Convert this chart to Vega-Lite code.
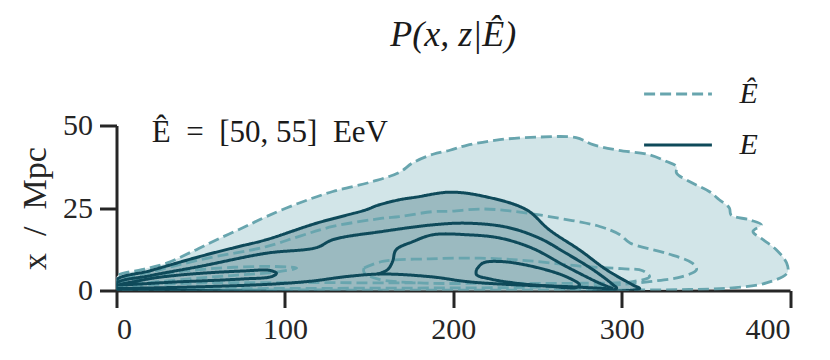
{
  "$schema": "https://vega.github.io/schema/vega-lite/v6.json",
  "width": 673.5,
  "height": 165,
  "autosize": {"type": "none"},
  "padding": {"left": 116.5, "top": 125.5, "right": 40, "bottom": 69},
  "background": "white",
  "config": {
    "view": {"stroke": null},
    "axis": {
      "grid": false,
      "domainColor": "#262626",
      "domainWidth": 3,
      "tickColor": "#262626",
      "tickWidth": 3,
      "tickSize": 17,
      "labelFont": "Liberation Serif",
      "labelFontSize": 30,
      "labelColor": "#262626",
      "labelPadding": 7,
      "titleFont": "Liberation Serif",
      "titleFontSize": 34,
      "titleFontWeight": "normal",
      "titleColor": "#262626"
    }
  },
  "title": {
    "text": "P(x, z|Ê)",
    "font": "Liberation Serif",
    "fontStyle": "italic",
    "fontSize": 36,
    "fontWeight": "normal",
    "color": "#1a1a1a",
    "anchor": "middle",
    "frame": "group",
    "baseline": "alphabetic",
    "offset": -23
  },
  "datasets": {
    "contours": [
      {"c":"D1","k":"Ê","i":0,"x":0,"y":0.3},{"c":"D1","k":"Ê","i":1,"x":0,"y":4.2},{"c":"D1","k":"Ê","i":2,"x":15,"y":6.3},{"c":"D1","k":"Ê","i":3,"x":29.8,"y":8.3},{"c":"D1","k":"Ê","i":4,"x":45,"y":11.8},{"c":"D1","k":"Ê","i":5,"x":59.5,"y":15.4},{"c":"D1","k":"Ê","i":6,"x":75,"y":19},{"c":"D1","k":"Ê","i":7,"x":89,"y":22.4},{"c":"D1","k":"Ê","i":8,"x":109,"y":26.6},{"c":"D1","k":"Ê","i":9,"x":128.5,"y":30},{"c":"D1","k":"Ê","i":10,"x":152,"y":33},{"c":"D1","k":"Ê","i":11,"x":168,"y":35.8},{"c":"D1","k":"Ê","i":12,"x":176,"y":38.7},{"c":"D1","k":"Ê","i":13,"x":188,"y":41.3},{"c":"D1","k":"Ê","i":14,"x":198,"y":42.5},{"c":"D1","k":"Ê","i":15,"x":208,"y":44},{"c":"D1","k":"Ê","i":16,"x":227.6,"y":45.7},{"c":"D1","k":"Ê","i":17,"x":251,"y":46.5},{"c":"D1","k":"Ê","i":18,"x":273,"y":46.3},{"c":"D1","k":"Ê","i":19,"x":283,"y":44.2},{"c":"D1","k":"Ê","i":20,"x":297,"y":42.6},{"c":"D1","k":"Ê","i":21,"x":316.6,"y":41.1},{"c":"D1","k":"Ê","i":22,"x":326.7,"y":39.1},{"c":"D1","k":"Ê","i":23,"x":332.6,"y":37.6},{"c":"D1","k":"Ê","i":24,"x":332.6,"y":35.6},{"c":"D1","k":"Ê","i":25,"x":342,"y":32.6},{"c":"D1","k":"Ê","i":26,"x":352,"y":30},{"c":"D1","k":"Ê","i":27,"x":358,"y":27.5},{"c":"D1","k":"Ê","i":28,"x":364,"y":25},{"c":"D1","k":"Ê","i":29,"x":365,"y":22.9},{"c":"D1","k":"Ê","i":30,"x":376,"y":21.4},{"c":"D1","k":"Ê","i":31,"x":383,"y":19.9},{"c":"D1","k":"Ê","i":32,"x":378,"y":17.9},{"c":"D1","k":"Ê","i":33,"x":384,"y":15.4},{"c":"D1","k":"Ê","i":34,"x":392,"y":12.3},{"c":"D1","k":"Ê","i":35,"x":398,"y":8.3},{"c":"D1","k":"Ê","i":36,"x":398.5,"y":5.4},{"c":"D1","k":"Ê","i":37,"x":386,"y":2.3},{"c":"D1","k":"Ê","i":38,"x":366,"y":0.8},{"c":"D1","k":"Ê","i":39,"x":340,"y":0.3},{"c":"D1","k":"Ê","i":40,"x":0,"y":0.3},

      {"c":"E1","k":"E","i":0,"x":0,"y":0.3},{"c":"E1","k":"E","i":1,"x":0,"y":3.2},{"c":"E1","k":"E","i":2,"x":20,"y":6},{"c":"E1","k":"E","i":3,"x":49.5,"y":10.3},{"c":"E1","k":"E","i":4,"x":70,"y":13},{"c":"E1","k":"E","i":5,"x":89,"y":15.4},{"c":"E1","k":"E","i":6,"x":118.8,"y":20.4},{"c":"E1","k":"E","i":7,"x":148.5,"y":24.5},{"c":"E1","k":"E","i":8,"x":154.4,"y":25.7},{"c":"E1","k":"E","i":9,"x":168,"y":27.5},{"c":"E1","k":"E","i":10,"x":178,"y":28.3},{"c":"E1","k":"E","i":11,"x":198,"y":29.8},{"c":"E1","k":"E","i":12,"x":217.6,"y":28.6},{"c":"E1","k":"E","i":13,"x":243.4,"y":24.5},{"c":"E1","k":"E","i":14,"x":257,"y":18.4},{"c":"E1","k":"E","i":15,"x":275,"y":12.3},{"c":"E1","k":"E","i":16,"x":291,"y":6.3},{"c":"E1","k":"E","i":17,"x":306.6,"y":1.7},{"c":"E1","k":"E","i":18,"x":310.7,"y":0.6},{"c":"E1","k":"E","i":19,"x":0,"y":0.3},

      {"c":"E2","k":"E","i":0,"x":0,"y":0.3},{"c":"E2","k":"E","i":1,"x":0,"y":2.2},{"c":"E2","k":"E","i":2,"x":20,"y":4.5},{"c":"E2","k":"E","i":3,"x":49.5,"y":7.3},{"c":"E2","k":"E","i":4,"x":89,"y":11.3},{"c":"E2","k":"E","i":5,"x":118.8,"y":13},{"c":"E2","k":"E","i":6,"x":128.5,"y":15.4},{"c":"E2","k":"E","i":7,"x":158,"y":17.9},{"c":"E2","k":"E","i":8,"x":188,"y":19.9},{"c":"E2","k":"E","i":9,"x":208,"y":20.4},{"c":"E2","k":"E","i":10,"x":231.6,"y":19.2},{"c":"E2","k":"E","i":11,"x":251,"y":15.9},{"c":"E2","k":"E","i":12,"x":267,"y":11.3},{"c":"E2","k":"E","i":13,"x":283,"y":6.3},{"c":"E2","k":"E","i":14,"x":295,"y":1.7},{"c":"E2","k":"E","i":15,"x":297,"y":0.6},{"c":"E2","k":"E","i":16,"x":0,"y":0.3},

      {"c":"EB","k":"E","i":0,"x":0,"y":0.6},{"c":"EB","k":"E","i":1,"x":40,"y":1.0},{"c":"EB","k":"E","i":2,"x":91,"y":1.9},{"c":"EB","k":"E","i":3,"x":115,"y":2.8},{"c":"EB","k":"E","i":4,"x":138,"y":4.3},{"c":"EB","k":"E","i":5,"x":158,"y":5.0},{"c":"EB","k":"E","i":6,"x":188,"y":4.1},{"c":"EB","k":"E","i":7,"x":208,"y":2.7},{"c":"EB","k":"E","i":8,"x":237.5,"y":1.7},{"c":"EB","k":"E","i":9,"x":267,"y":1.2},{"c":"EB","k":"E","i":10,"x":293,"y":0.5},

      {"c":"E3","k":"E","i":0,"x":155,"y":5.0},{"c":"E3","k":"E","i":1,"x":161,"y":6.3},{"c":"E3","k":"E","i":2,"x":164,"y":8.8},{"c":"E3","k":"E","i":3,"x":166,"y":12.3},{"c":"E3","k":"E","i":4,"x":176,"y":14.8},{"c":"E3","k":"E","i":5,"x":188,"y":16.9},{"c":"E3","k":"E","i":6,"x":208,"y":16.9},{"c":"E3","k":"E","i":7,"x":227.6,"y":15.9},{"c":"E3","k":"E","i":8,"x":247,"y":12.8},{"c":"E3","k":"E","i":9,"x":267,"y":7.3},{"c":"E3","k":"E","i":10,"x":287,"y":2.2},{"c":"E3","k":"E","i":11,"x":295,"y":0.6},

      {"c":"E4","k":"E","i":0,"x":213.8,"y":6.3},{"c":"E4","k":"E","i":1,"x":217.5,"y":8.3},{"c":"E4","k":"E","i":2,"x":227.6,"y":8.8},{"c":"E4","k":"E","i":3,"x":247,"y":7.3},{"c":"E4","k":"E","i":4,"x":267,"y":4.2},{"c":"E4","k":"E","i":5,"x":275,"y":1.7},{"c":"E4","k":"E","i":6,"x":273,"y":0.9},{"c":"E4","k":"E","i":7,"x":255,"y":1.4},{"c":"E4","k":"E","i":8,"x":237.5,"y":2.2},{"c":"E4","k":"E","i":9,"x":222,"y":3.5},{"c":"E4","k":"E","i":10,"x":213.8,"y":4.8},{"c":"E4","k":"E","i":11,"x":213.8,"y":6.3},

      {"c":"E5","k":"E","i":0,"x":0,"y":1.6},{"c":"E5","k":"E","i":1,"x":20,"y":3.6},{"c":"E5","k":"E","i":2,"x":35.7,"y":4.6},{"c":"E5","k":"E","i":3,"x":55.5,"y":5.4},{"c":"E5","k":"E","i":4,"x":75,"y":5.9},{"c":"E5","k":"E","i":5,"x":91,"y":6.1},{"c":"E5","k":"E","i":6,"x":95,"y":5.2},{"c":"E5","k":"E","i":7,"x":92,"y":4.2},{"c":"E5","k":"E","i":8,"x":75,"y":3.5},{"c":"E5","k":"E","i":9,"x":50,"y":2.9},{"c":"E5","k":"E","i":10,"x":35.7,"y":2.6},{"c":"E5","k":"E","i":11,"x":15,"y":2.0},{"c":"E5","k":"E","i":12,"x":0,"y":1.6},

      {"c":"D2","k":"Ê","i":0,"x":0,"y":0.5},{"c":"D2","k":"Ê","i":1,"x":0,"y":2.7},{"c":"D2","k":"Ê","i":2,"x":20,"y":5.5},{"c":"D2","k":"Ê","i":3,"x":49.5,"y":9.3},{"c":"D2","k":"Ê","i":4,"x":89,"y":13.3},{"c":"D2","k":"Ê","i":5,"x":109,"y":16.5},{"c":"D2","k":"Ê","i":6,"x":128.5,"y":19.4},{"c":"D2","k":"Ê","i":7,"x":158,"y":21.9},{"c":"D2","k":"Ê","i":8,"x":168,"y":22.4},{"c":"D2","k":"Ê","i":9,"x":188,"y":23.9},{"c":"D2","k":"Ê","i":10,"x":198,"y":24},{"c":"D2","k":"Ê","i":11,"x":217.6,"y":24.7},{"c":"D2","k":"Ê","i":12,"x":237.5,"y":23.9},{"c":"D2","k":"Ê","i":13,"x":257,"y":22.4},{"c":"D2","k":"Ê","i":14,"x":287,"y":19.4},{"c":"D2","k":"Ê","i":15,"x":299,"y":16.9},{"c":"D2","k":"Ê","i":16,"x":305,"y":14.4},{"c":"D2","k":"Ê","i":17,"x":326.5,"y":11.3},{"c":"D2","k":"Ê","i":18,"x":342,"y":8.3},{"c":"D2","k":"Ê","i":19,"x":344.5,"y":6.3},{"c":"D2","k":"Ê","i":20,"x":336,"y":4.2},{"c":"D2","k":"Ê","i":21,"x":316.6,"y":2.7},{"c":"D2","k":"Ê","i":22,"x":297,"y":1.7},{"c":"D2","k":"Ê","i":23,"x":250,"y":1.0},{"c":"D2","k":"Ê","i":24,"x":150,"y":0.7},{"c":"D2","k":"Ê","i":25,"x":0,"y":0.5},

      {"c":"D3","k":"Ê","i":0,"x":147,"y":6.8},{"c":"D3","k":"Ê","i":1,"x":158,"y":8.8},{"c":"D3","k":"Ê","i":2,"x":186,"y":9.6},{"c":"D3","k":"Ê","i":3,"x":215.8,"y":9.8},{"c":"D3","k":"Ê","i":4,"x":245,"y":9.0},{"c":"D3","k":"Ê","i":5,"x":277,"y":7.3},{"c":"D3","k":"Ê","i":6,"x":300,"y":6.6},{"c":"D3","k":"Ê","i":7,"x":312.5,"y":6.0},{"c":"D3","k":"Ê","i":8,"x":316.6,"y":4.2},{"c":"D3","k":"Ê","i":9,"x":306.6,"y":2.7},{"c":"D3","k":"Ê","i":10,"x":277,"y":2.2},{"c":"D3","k":"Ê","i":11,"x":230,"y":2.2},{"c":"D3","k":"Ê","i":12,"x":180,"y":2.3},{"c":"D3","k":"Ê","i":13,"x":155,"y":3.5},{"c":"D3","k":"Ê","i":14,"x":147,"y":5.5},{"c":"D3","k":"Ê","i":15,"x":147,"y":6.8},

      {"c":"D4","k":"Ê","i":0,"x":0,"y":2.0},{"c":"D4","k":"Ê","i":1,"x":25,"y":4.8},{"c":"D4","k":"Ê","i":2,"x":55.5,"y":6.6},{"c":"D4","k":"Ê","i":3,"x":91,"y":7.3},{"c":"D4","k":"Ê","i":4,"x":107,"y":6.8},{"c":"D4","k":"Ê","i":5,"x":95,"y":5.6},{"c":"D4","k":"Ê","i":6,"x":70,"y":4.6},{"c":"D4","k":"Ê","i":7,"x":40,"y":3.4},{"c":"D4","k":"Ê","i":8,"x":0,"y":1.5},

      {"c":"D5","k":"Ê","i":0,"x":0,"y":1.2},{"c":"D5","k":"Ê","i":1,"x":45,"y":2.2},{"c":"D5","k":"Ê","i":2,"x":100,"y":2.4},{"c":"D5","k":"Ê","i":3,"x":162,"y":2.3},{"c":"D5","k":"Ê","i":4,"x":180,"y":2.3}
    ],
    "notes": [
      {"x": 21, "y": 45, "t": "Ê\u2002=\u2002[50,\u00a055]\u2002EeV"}
    ]
  },
  "layer": [
    {
      "data": {"name": "contours"},
      "transform": [{"filter": "datum.c == 'D1'"}],
      "mark": {"type": "line", "fill": "#d2e5e8", "strokeWidth": 0, "clip": true, "interpolate": "catmull-rom"},
      "encoding": {
        "x": {"field": "x", "type": "quantitative", "scale": {"domain": [0, 400], "nice": false, "zero": false},
              "axis": {"values": [0, 100, 200, 300, 400], "title": null}},
        "y": {"field": "y", "type": "quantitative", "scale": {"domain": [0, 50], "nice": false, "zero": false},
              "axis": {"values": [0, 25, 50], "title": "x\u2002/\u2002Mpc", "titlePadding": 10}},
        "order": {"field": "i", "type": "quantitative"}
      }
    },
    {
      "data": {"name": "contours"},
      "transform": [{"filter": "datum.c == 'E1'"}],
      "mark": {"type": "line", "fill": "#9bbac0", "strokeWidth": 0, "clip": true, "interpolate": "catmull-rom"},
      "encoding": {
        "x": {"field": "x", "type": "quantitative"},
        "y": {"field": "y", "type": "quantitative"},
        "order": {"field": "i", "type": "quantitative"}
      }
    },
    {
      "data": {"name": "contours"},
      "transform": [{"filter": "datum.k == 'Ê'"}],
      "mark": {"type": "line", "strokeWidth": 2.8, "clip": true, "interpolate": "catmull-rom"},
      "encoding": {
        "x": {"field": "x", "type": "quantitative"},
        "y": {"field": "y", "type": "quantitative"},
        "detail": {"field": "c"},
        "order": {"field": "i", "type": "quantitative"},
        "stroke": {"field": "k", "type": "nominal", "scale": {"domain": ["Ê", "E"], "range": ["#68a5ae", "#0e4a5a"]},
                   "legend": {"orient": "none", "legendX": 526, "legendY": -67, "title": null, "symbolType": "stroke", "symbolSize": 4600, "symbolStrokeWidth": 3, "labelFont": "Liberation Serif", "labelFontSize": 30, "labelFontStyle": "italic", "labelColor": "#1a1a1a", "labelOffset": 26, "rowPadding": -26, "padding": 0}},
        "strokeDash": {"field": "k", "type": "nominal", "scale": {"domain": ["Ê", "E"], "range": [[11, 5], [1, 0]]},
                   "legend": {"orient": "none", "legendX": 526, "legendY": -67, "title": null, "symbolType": "stroke", "symbolSize": 4600, "symbolStrokeWidth": 3, "labelFont": "Liberation Serif", "labelFontSize": 30, "labelFontStyle": "italic", "labelColor": "#1a1a1a", "labelOffset": 26, "rowPadding": -26, "padding": 0}}
      }
    },
    {
      "data": {"name": "contours"},
      "transform": [{"filter": "datum.k == 'E'"}],
      "mark": {"type": "line", "strokeWidth": 3, "clip": true, "interpolate": "catmull-rom"},
      "encoding": {
        "x": {"field": "x", "type": "quantitative"},
        "y": {"field": "y", "type": "quantitative"},
        "detail": {"field": "c"},
        "order": {"field": "i", "type": "quantitative"},
        "stroke": {"field": "k", "type": "nominal"},
        "strokeDash": {"field": "k", "type": "nominal"}
      }
    },
    {
      "data": {"name": "notes"},
      "mark": {"type": "text", "align": "left", "baseline": "alphabetic", "font": "Liberation Serif", "fontSize": 31, "color": "#1a1a1a"},
      "encoding": {
        "x": {"field": "x", "type": "quantitative"},
        "y": {"field": "y", "type": "quantitative"},
        "text": {"field": "t"}
      }
    }
  ]
}
